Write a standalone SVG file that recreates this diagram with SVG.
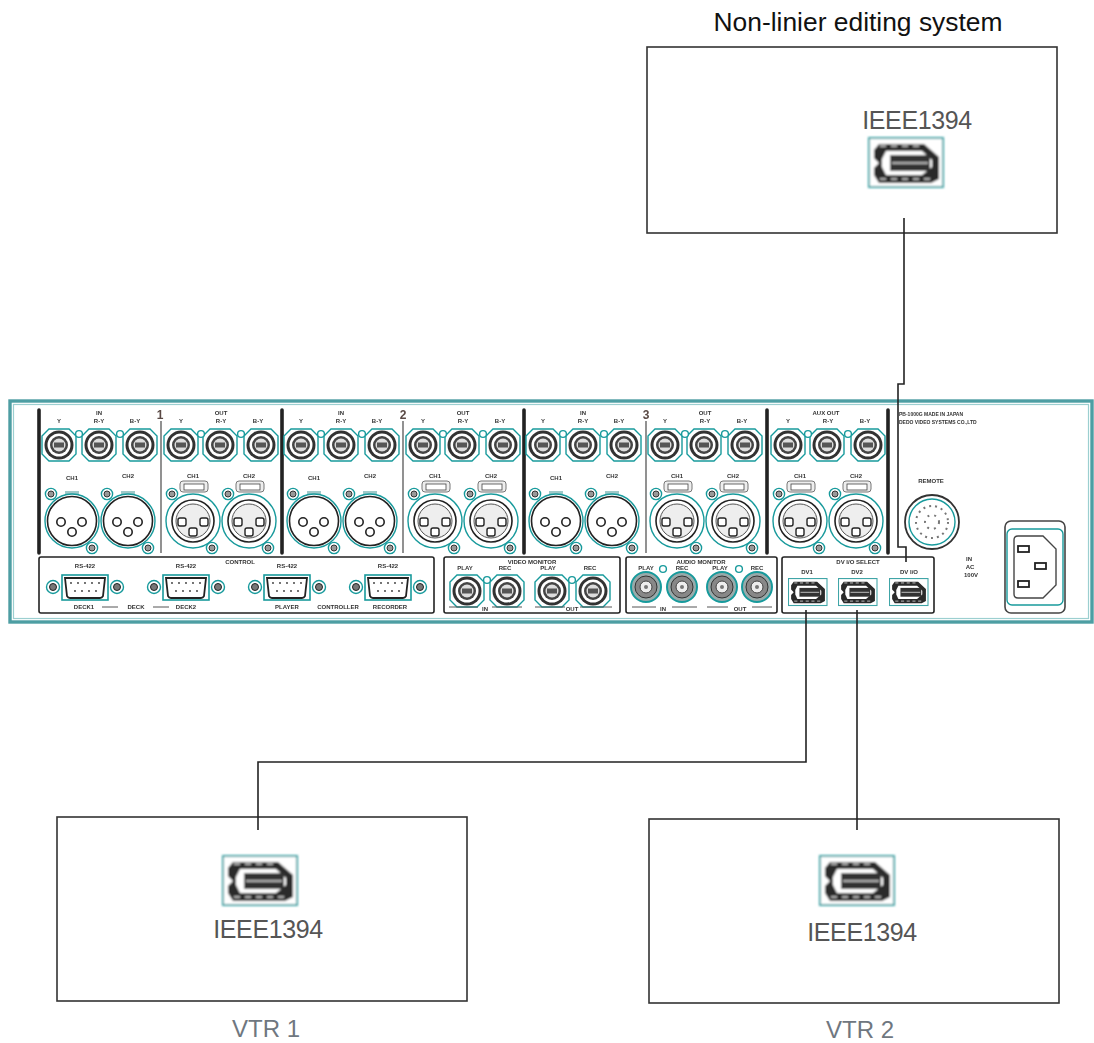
<svg xmlns="http://www.w3.org/2000/svg" width="1094" height="1043" viewBox="0 0 1094 1043">
<style>
.box{fill:#fff;stroke:#333;stroke-width:1.6}
.wire{fill:none;stroke:#222;stroke-width:1.6}
.t{font-family:"Liberation Sans",Arial,sans-serif;text-anchor:middle}
.s{font-size:6px;font-weight:bold;fill:#333}
.big{font-size:25px;font-weight:normal;fill:#555;letter-spacing:-.4px}
.vtr{font-size:24px;fill:#6f7780}
.title{font-size:26.4px;fill:#111}
.num{font-size:12px;font-weight:bold;fill:#5a4a45}
.tf{fill:none;stroke:#189a9c;stroke-width:1.6}
.tw{fill:#fff;stroke:#189a9c;stroke-width:1.4}
.dk{fill:none;stroke:#222;stroke-width:1.6}
.sub{fill:#fff;stroke:#222;stroke-width:1.8}
.divk{stroke:#222;stroke-width:3.6;stroke-linecap:round}
.divg{stroke:#777;stroke-width:1.6}
</style>
<defs>
<filter id="soft" x="-2%" y="-2%" width="104%" height="104%"><feGaussianBlur stdDeviation="0.75"/></filter>
<filter id="soft2" x="-5%" y="-5%" width="110%" height="110%"><feGaussianBlur stdDeviation="0.8"/></filter>
<g id="bnc">
<path class="tw" d="M-10-16H10L17-9V9L10 16H-10L-17 9V-9Z"/>
<circle r="14.5" fill="#333"/><circle r="11.5" fill="#fff"/><circle r="9" fill="#444"/><circle r="6.5" fill="#ddd"/>
<rect x="-5" y="-2.5" width="10" height="5" fill="#555"/>
</g>
<circle id="link" r="3.4" class="tw"/>
<g id="screw"><circle r="5.6" class="tw"/><circle r="3" fill="#999" stroke="#333"/></g>
<g id="xlrf">
<rect x="-7" y="-30" width="14" height="5" fill="#9fc9c9"/>
<circle r="27" class="tw"/><circle r="24.5" class="dk"/>
<circle cx="-11" cy="1" r="4.2" class="dk"/><circle cx="10" cy="1" r="4.2" class="dk"/><circle cx="0" cy="11" r="4.2" class="dk"/>
<use href="#screw" x="-21" y="-27"/><use href="#screw" x="20" y="27"/>
</g>
<g id="xlrm">
<rect x="-13" y="-40" width="28" height="11" rx="3" fill="#eee" stroke="#777"/>
<rect x="-9" y="-37" width="20" height="6" fill="#fff" stroke="#444" stroke-width=".8"/>
<circle r="27" class="tw"/><circle r="21" class="dk"/><circle r="17" fill="#eee" stroke="#555"/>
<rect x="-15" y="-3" width="8" height="8" rx="2" fill="#fff" stroke="#222" stroke-width="1.4"/>
<rect x="7" y="-3" width="8" height="8" rx="2" fill="#fff" stroke="#222" stroke-width="1.4"/>
<rect x="-4" y="7" width="8" height="8" rx="2" fill="#fff" stroke="#222" stroke-width="1.4"/>
<use href="#screw" x="-21" y="-27"/><use href="#screw" x="19" y="27"/>
</g>
<g id="chin">
<use href="#bnc" x="59" y="445"/><use href="#bnc" x="99" y="445"/><use href="#bnc" x="140" y="445"/>
<use href="#link" x="79" y="434"/><use href="#link" x="120" y="434"/>
<use href="#xlrf" x="72" y="521"/><use href="#xlrf" x="128" y="521"/>
<text class="t s" x="59" y="423">Y</text><text class="t s" x="99" y="415">IN</text><text class="t s" x="99" y="423">R-Y</text><text class="t s" x="135" y="423">B-Y</text>
<text class="t s" x="72" y="480">CH1</text><text class="t s" x="128" y="478">CH2</text>
</g>
<g id="chout">
<use href="#bnc" x="181" y="445"/><use href="#bnc" x="220" y="445"/><use href="#bnc" x="261" y="445"/>
<use href="#link" x="201" y="434"/><use href="#link" x="241" y="434"/>
<use href="#xlrm" x="193" y="521"/><use href="#xlrm" x="249" y="521"/>
<text class="t s" x="181" y="423">Y</text><text class="t s" x="221" y="423">R-Y</text><text class="t s" x="258" y="423">B-Y</text>
<text class="t s" x="193" y="478">CH1</text><text class="t s" x="249" y="478">CH2</text>
</g>
<g id="dsub">
<rect x="-23" y="-12" width="46" height="25" class="tf"/>
<path d="M-20-9H20L18 9Q17 11 15 11H-15Q-17 11-18 9Z" class="sub"/>
<g fill="#333"><circle cx="-14" cy="-4" r=".9"/><circle cx="-7" cy="-4" r=".9"/><circle cx="0" cy="-4" r=".9"/><circle cx="7" cy="-4" r=".9"/><circle cx="14" cy="-4" r=".9"/><circle cx="-10" cy="4" r=".9"/><circle cx="-3" cy="4" r=".9"/><circle cx="4" cy="4" r=".9"/><circle cx="11" cy="4" r=".9"/></g>
<g><circle cx="-32" r="6.5" class="tw"/><circle cx="-32" r="3.5" fill="#777" stroke="#222"/><circle cx="32" r="6.5" class="tw"/><circle cx="32" r="3.5" fill="#777" stroke="#222"/></g>
<text class="t s" y="-19" font-size="5">RS-422</text>
</g>
<g id="abnc"><circle r="15" fill="#9aa" stroke="#189a9c" stroke-width="2"/><circle r="11" fill="#888" stroke="#333"/><circle r="6" fill="#eee" stroke="#444"/><circle r="2" fill="#777"/></g>
<g id="fw">
<rect x="1" y="1" width="74" height="49" fill="#fff" stroke="#3fa5a7" stroke-width="2"/>
<path d="M11 7H56L71 20V42L63 46H11L6 38V31L11 26 6 21V13Z" fill="#2a2a2a"/>
<path d="M18 14H54L64 23 64 30 54 38H18L14 30V22Z" fill="#fff"/>
<rect x="22" y="18" width="40" height="16" fill="#333"/>
<path d="M24 26H60" stroke="#ddd" stroke-width="1.5"/>
<path d="M12 42H62M12 9H52" stroke="#ddd" stroke-width="1.5" stroke-dasharray="6 5"/>
</g>
</defs>

<g id="editing-system">
<rect class="box" x="647" y="47" width="410" height="186"/>
<text class="t title" x="858" y="31">Non-linier editing system</text>
<text class="t big" x="917" y="129">IEEE1394</text>
<use href="#fw" transform="translate(868 137)" filter="url(#soft2)"/>
</g>

<g id="vtr1">
<rect class="box" x="57" y="817" width="410" height="184"/>
<use href="#fw" transform="translate(222 855)" filter="url(#soft2)"/>
<text class="t big" x="268" y="938">IEEE1394</text>
<text class="t vtr" x="266" y="1037">VTR 1</text>
</g>

<g id="vtr2">
<rect class="box" x="649" y="819" width="410" height="184"/>
<use href="#fw" transform="translate(819 855)" filter="url(#soft2)"/>
<text class="t big" x="862" y="941">IEEE1394</text>
<text class="t vtr" x="860" y="1038">VTR 2</text>
</g>

<g id="switcher" filter="url(#soft)">
<rect x="10" y="401" width="1082" height="221" fill="#fff" stroke="#4e9ea3" stroke-width="3.4"/>
<rect x="13.5" y="404.5" width="1075" height="214" fill="none" stroke="#9ccfd0" stroke-width="1.2"/>
<path class="divk" d="M39 410V553M282 410V553M524 410V553M767 410V553M888 410V553"/>
<path class="divg" d="M161 421V553M403 421V553M646 421V553"/>
<text class="t num" x="160" y="419">1</text><text class="t num" x="403" y="419">2</text><text class="t num" x="646" y="419">3</text>
<use href="#chin"/><use href="#chin" x="242"/><use href="#chin" x="484"/>
<use href="#chout"/><use href="#chout" x="242"/><use href="#chout" x="484"/><use href="#chout" x="607"/>
<text class="t s" x="221" y="415">OUT</text><text class="t s" x="463" y="415">OUT</text><text class="t s" x="705" y="415">OUT</text><text class="t s" x="826" y="415">AUX OUT</text>
<g font-family="Liberation Sans,Arial,sans-serif" font-size="5" font-weight="bold" fill="#333"><text x="899" y="416">PB-1000G    MADE IN JAPAN</text><text x="899" y="424">DEDO VIDEO SYSTEMS CO.,LTD</text></g>
<text class="t s" x="931" y="483">REMOTE</text>
<circle cx="932" cy="522" r="27" fill="#fff" stroke="#333" stroke-width="1.8"/><circle cx="932" cy="522" r="23" class="tw"/><circle cx="932" cy="522" r="16" fill="none" stroke="#777" stroke-dasharray="2 4" stroke-width="2"/>
<circle cx="932" cy="522" r="7" fill="none" stroke="#777" stroke-dasharray="2 5" stroke-width="2"/>
<text class="t s" x="969" y="561">IN</text><text class="t s" x="970" y="569">AC</text><text class="t s" x="971" y="577">100V</text>
<rect x="1005" y="521" width="60" height="92" rx="6" fill="#fff" stroke="#444" stroke-width="1.6"/>
<rect x="1007" y="529" width="56" height="76" rx="5" class="tw" stroke-width="2"/>
<path d="M1018 536H1043L1056 549V585L1043 598H1018Q1014 598 1014 594V540Q1014 536 1018 536Z" fill="#fff" stroke="#444" stroke-width="1.4"/>
<rect x="1018" y="546" width="11" height="6" class="sub" stroke-width="1.2"/>
<rect x="1035" y="563" width="11" height="6" class="sub" stroke-width="1.2"/>
<rect x="1018" y="581" width="11" height="6" class="sub" stroke-width="1.2"/>

<rect x="39" y="557" width="395" height="56" rx="2" fill="#fff" stroke="#222" stroke-width="1.6"/>
<rect x="444" y="557" width="176" height="56" rx="2" fill="#fff" stroke="#222" stroke-width="1.6"/>
<rect x="626" y="557" width="151" height="56" rx="2" fill="#fff" stroke="#222" stroke-width="1.6"/>
<rect x="782" y="557" width="152" height="56" rx="2" fill="#fff" stroke="#222" stroke-width="1.6"/>
<text class="t s" x="240" y="564">CONTROL</text><text class="t s" x="532" y="564">VIDEO MONITOR</text><text class="t s" x="701" y="564">AUDIO MONITOR</text><text class="t s" x="858" y="564">DV I/O SELECT</text>
<use href="#dsub" x="85" y="587"/><use href="#dsub" x="186" y="587"/><use href="#dsub" x="287" y="587"/><use href="#dsub" x="388" y="587"/>
<text class="t s" x="84" y="609">DECK1</text><text class="t s" x="136" y="609">DECK</text><text class="t s" x="186" y="609">DECK2</text><text class="t s" x="287" y="609">PLAYER</text><text class="t s" x="338" y="609">CONTROLLER</text><text class="t s" x="390" y="609">RECORDER</text>
<path d="M102 607H118M153 607H169" stroke="#555"/>

<use href="#bnc" x="467" y="591"/><use href="#bnc" x="507" y="591"/><use href="#bnc" x="552" y="591"/><use href="#bnc" x="593" y="591"/>
<use href="#link" x="487" y="580"/><use href="#link" x="572" y="580"/>
<text class="t s" x="465" y="570">PLAY</text><text class="t s" x="505" y="570">REC</text><text class="t s" x="548" y="570">PLAY</text><text class="t s" x="590" y="570">REC</text>
<text class="t s" x="485" y="611">IN</text><text class="t s" x="572" y="611">OUT</text>
<path d="M449 607H478M492 607H522M535 607H565M580 607H612" stroke="#555"/>

<use href="#abnc" x="646" y="587"/><use href="#abnc" x="682" y="587"/><use href="#abnc" x="722" y="587"/><use href="#abnc" x="757" y="587"/>
<use href="#link" x="663" y="569"/><use href="#link" x="739" y="569"/>
<text class="t s" x="646" y="570">PLAY</text><text class="t s" x="682" y="570">REC</text><text class="t s" x="720" y="570">PLAY</text><text class="t s" x="757" y="570">REC</text>
<text class="t s" x="663" y="611">IN</text><text class="t s" x="740" y="611">OUT</text>
<path d="M632 607H656M672 607H697M707 607H728M752 607H772" stroke="#555"/>

<text class="t s" x="807" y="574">DV1</text><text class="t s" x="857" y="574">DV2</text><text class="t s" x="909" y="574">DV I/O</text>
<use href="#fw" transform="translate(788 578) scale(.52 .55)"/>
<use href="#fw" transform="translate(838 578) scale(.52 .55)"/>
<use href="#fw" transform="translate(889 578) scale(.52 .55)"/>
</g>

<g id="connectors">
<path class="wire" d="M904 218V384H898V547H906V562"/>
<path class="wire" d="M806 610V762H258V830"/>
<path class="wire" d="M857 610V830"/>
</g>
</svg>
